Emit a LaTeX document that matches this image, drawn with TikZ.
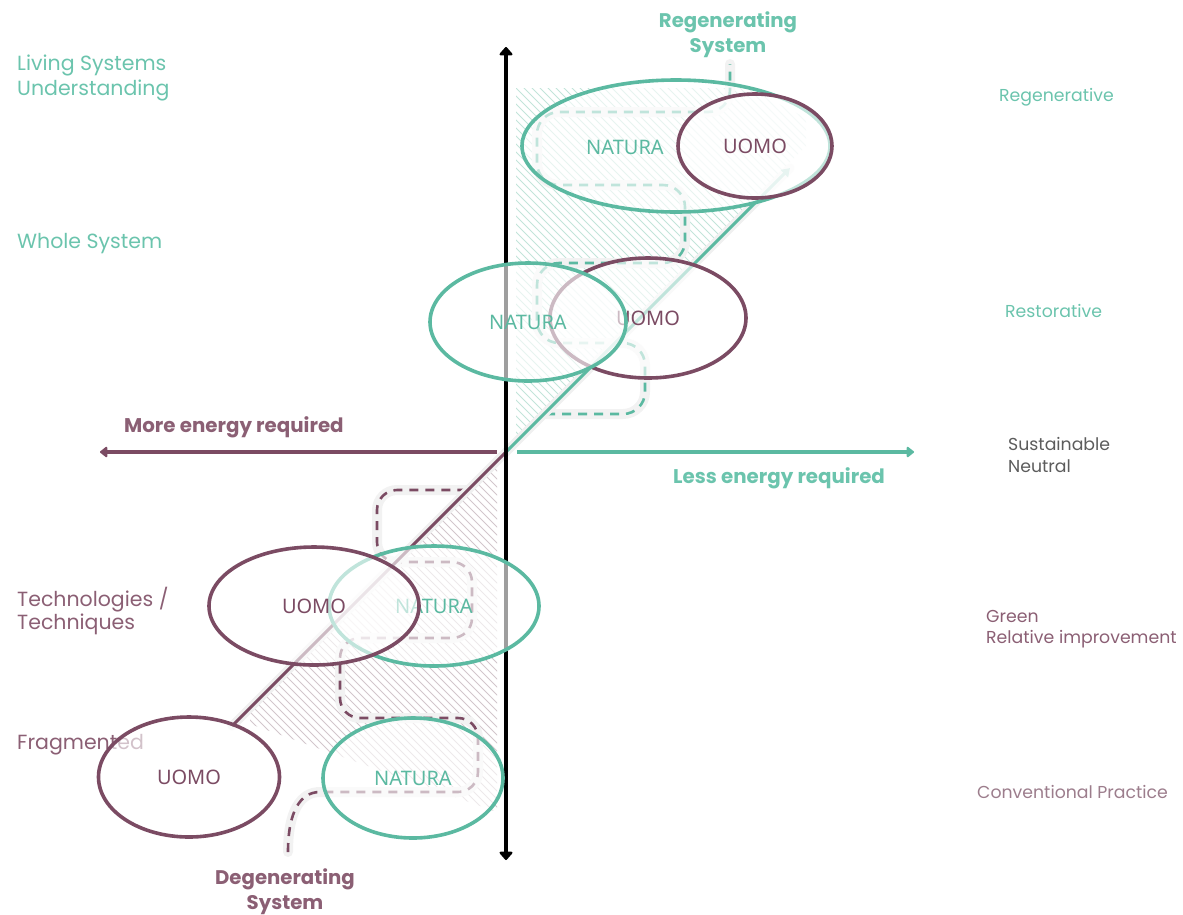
\documentclass[tikz,border=0pt]{standalone}
\usepackage{fontspec}
\setmainfont{Poppins}
\newfontfamily\ellfont{Noto Sans}
\usetikzlibrary{shapes.geometric,arrows.meta}
\definecolor{natgreen}{HTML}{5BB9A1}
\definecolor{natlabel}{HTML}{6BC4AD}
\definecolor{manplum}{HTML}{7B4B63}
\definecolor{plumlabel}{HTML}{8B5F74}
\definecolor{hatchgreen}{HTML}{C2E4DA}
\definecolor{hatchplum}{HTML}{D2C6CC}
\definecolor{greylabel}{HTML}{5C5C5C}
\definecolor{palepink}{HTML}{9C7D8C}
\tikzset{
  axtip/.tip={Triangle[width=12pt,length=8pt,round]},
  vtip/.tip={Triangle[width=15pt,length=9pt,round]}
}
\begin{document}
\begin{tikzpicture}[x=1pt,y=-1pt,
  blob/.style={ellipse, line width=3.6pt, fill=white, fill opacity=0.62,
    text opacity=1, inner sep=0pt, font=\ellfont\fontsize{20}{24}\selectfont},
  nat/.style={blob, draw=natgreen, text=natgreen},
  uom/.style={blob, draw=manplum, text=manplum},
  lefttag/.style={anchor=west, inner sep=0pt, align=left, yshift=-2.5pt, font=\fontsize{20.5}{24}\selectfont},
  righttag/.style={anchor=west, inner sep=0pt, align=left, yshift=-2pt, font=\fontsize{17.3}{21.5}\selectfont},
  headtag/.style={inner sep=0pt, align=center, yshift=-2.5pt, font=\bfseries\fontsize{19.7}{25}\selectfont},
  energytag/.style={anchor=west, inner sep=0pt, yshift=-2pt, font=\bfseries\fontsize{19.8}{24}\selectfont},
  halo/.style={line width=10pt, line cap=round, line join=round, gray!10},
  trail/.style={line width=2.6pt, dash pattern=on 9pt off 7pt}
]
\useasboundingbox (0,0) rectangle (1183,914);

% hatched wedges on both sides of the diagonal
\begin{scope}
  \clip (516,88) -- (748,88) -- (806,118) -- (806,146) -- (516,436) -- cycle;
  \foreach \i in {-400,-392,...,400}
    \draw[hatchgreen, line width=1pt] (500+\i,80) -- ++(400,400);
\end{scope}
\begin{scope}
  \clip (497,461) -- (497,812) -- (250,724) -- (250,708) -- cycle;
  \foreach \i in {-400,-392,...,400}
    \draw[hatchplum, line width=1pt] (300+\i,450) -- ++(400,400);
\end{scope}

% serpentine trails
\coordinate (degstart) at (288,852);
\coordinate (degend) at (468,490);
\coordinate (regstart) at (546,414);
\coordinate (regend) at (730,64);
\draw[halo, rounded corners=20pt] (degstart) .. controls (288,812) and (300,792) .. (340,792)
  -- (478,792) -- (478,718) -- (340,718) -- (340,638) -- (472,638) -- (472,562)
  -- (377,562) -- (377,490) -- (degend);
\draw[trail, manplum, rounded corners=20pt] (degstart) .. controls (288,812) and (300,792) .. (340,792)
  -- (478,792) -- (478,718) -- (340,718) -- (340,638) -- (472,638) -- (472,562)
  -- (377,562) -- (377,490) -- (degend);
\draw[halo, rounded corners=22pt] (regstart) -- (645,414) -- (645,343) -- (537,343)
  -- (537,263) -- (685,263) -- (685,185) -- (537,185) -- (537,112) -- (730,112) -- (regend);
\draw[trail, natgreen, rounded corners=22pt] (regstart) -- (645,414) -- (645,343) -- (537,343)
  -- (537,263) -- (685,263) -- (685,185) -- (537,185) -- (537,112) -- (730,112) -- (regend);

% diagonal from degenerating to regenerating
\coordinate (dlo) at (232,726);
\coordinate (o) at (506,452);
\coordinate (dhi) at (790,168);
\draw[line width=9pt, line cap=round, gray!12] (dlo) -- (dhi);
\draw[manplum, line width=3pt] (dlo) -- (o);
\draw[natgreen, line width=3pt, -{Triangle[width=10pt,length=8pt]}] (o) -- (dhi);

% axes
\coordinate (axtop) at (506,47);
\coordinate (axbot) at (506,860);
\coordinate (axleft) at (100,452);
\coordinate (axright) at (914,452);
\coordinate (axl0) at (497,452);
\coordinate (axr0) at (517,452);
\draw[black, line width=4pt, {vtip}-{vtip}] (axtop) -- (axbot);
\draw[manplum, line width=4pt, -{axtip}] (axl0) -- (axleft);
\draw[natgreen, line width=3.5pt, -{axtip}] (axr0) -- (axright);

% axis captions
\node[headtag, text=natlabel] (regen) at (728,32) {Regenerating\\System};
\node[headtag, text=plumlabel] (degen) at (285,889) {Degenerating\\System};
\node[energytag, text=plumlabel] (more) at (124,425) {More energy required};
\node[energytag, text=natlabel] (less) at (673,476) {Less energy required};

% left scale
\node[lefttag, text=natlabel, font=\fontsize{20.5}{25}\selectfont] (living) at (17,75) {Living Systems\\Understanding};
\node[lefttag, text=natlabel] (whole) at (17,241) {Whole System};
\node[lefttag, text=plumlabel, font=\fontsize{20.5}{23}\selectfont] (tech) at (17,608) {Technologies /\\Techniques};
\node[lefttag, text=plumlabel] (frag) at (17,742) {Fragmented};

% right scale
\node[righttag, text=natlabel] (regv) at (999,95) {Regenerative};
\node[righttag, text=natlabel] (rest) at (1005,309) {Restorative};
\node[righttag, text=greylabel] (sust) at (1008,453) {Sustainable\\Neutral};
\node[righttag, text=plumlabel] (green) at (986,627) {Green\\Relative improvement};
\node[righttag, text=palepink] (conv) at (977,790) {Conventional Practice};

% nature / man ellipses
\node[uom, minimum width=196pt, minimum height=120pt] (uomB) at (648,318) {UOMO};
\node[nat, minimum width=196pt, minimum height=118pt] (natB) at (528,322) {NATURA};
\node[nat, minimum width=210pt, minimum height=120pt] (natC) at (434,606) {NATURA};
\node[uom, minimum width=210pt, minimum height=118pt] (uomC) at (314,606) {UOMO};
\node[uom, minimum width=181pt, minimum height=120pt] (uomD) at (189,777) {UOMO};
\node[nat, minimum width=180pt, minimum height=120pt] (natD) at (413,778) {NATURA};
\node[nat, minimum width=308pt, minimum height=132pt] (natA) at (676,146) {};
\node[inner sep=0pt, text=natgreen, font=\ellfont\fontsize{20}{24}\selectfont] (natAt) at (625,147) {NATURA};
\node[uom, minimum width=154pt, minimum height=104pt] (uomA) at (755,146) {UOMO};
\end{tikzpicture}
\end{document}
